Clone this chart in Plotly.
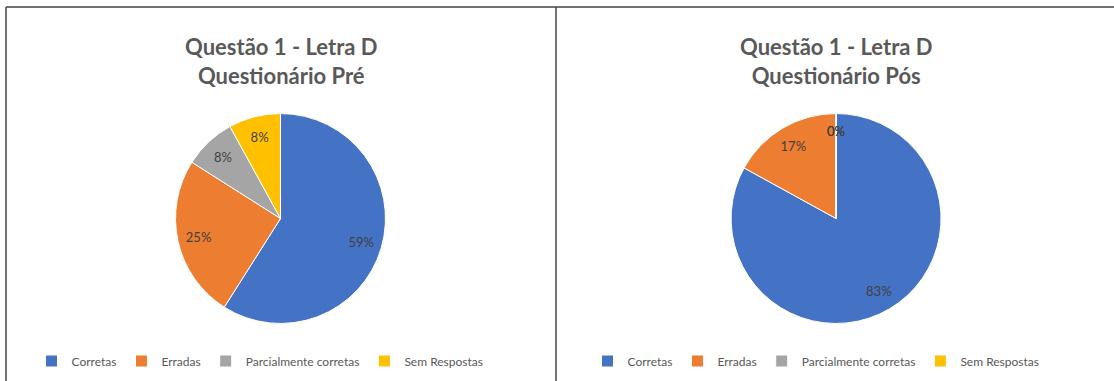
import math
import plotly.graph_objects as go

# Categories and results for question 1 (letter D), before and after
categorias = ["Corretas", "Erradas", "Parcialmente corretas", "Sem Respostas"]
pre_valores = [59, 25, 8, 8]
pos_valores = [83, 17, 0, 0]
cores = ["#4472C4", "#ED7D31", "#A5A5A5", "#FFC000"]

titulo_pre = "Questão 1 - Letra D<br>Questionário Pré"
titulo_pos = "Questão 1 - Letra D<br>Questionário Pós"

W, H = 1114, 381
FONT = "Lato, Carlito, Calibri, sans-serif"
GRAY = "#595959"
LABEL = "#404040"

# pie placement (paper fractions)
DOM_Y = [0.151, 0.702]
DOM_PRE = [0.0518, 0.4518]
DOM_POS = [0.5505, 0.9505]
LABEL_HOLE = 0.6


def px_x(v):
    return v / W


def px_y(v):
    return 1 - v / H


def pie(valores, dom_x, legenda, grupo):
    return go.Pie(
        labels=categorias,
        values=valores,
        sort=False,
        direction="clockwise",
        rotation=0,
        marker=dict(colors=cores, line=dict(color="white", width=1)),
        textinfo="none",
        domain=dict(x=dom_x, y=DOM_Y),
        legend=legenda,
        legendgroup=grupo,
        hoverinfo="label+value",
    )


def rotulos(valores, dom_x):
    # transparent ring carrying the percentage labels further out in each slice
    return go.Pie(
        labels=categorias,
        values=valores,
        sort=False,
        direction="clockwise",
        rotation=0,
        hole=LABEL_HOLE,
        marker=dict(colors=["rgba(0,0,0,0)"] * len(valores), line=dict(width=0)),
        texttemplate="%{value}%",
        textposition="inside",
        insidetextorientation="horizontal",
        textfont=dict(family=FONT, size=13, color=LABEL),
        domain=dict(x=dom_x, y=DOM_Y),
        showlegend=False,
        hoverinfo="skip",
    )


def rotulos_zero(valores, dom_x):
    # zero-valued slices have no area, so their label sits at the slice boundary
    cx = (dom_x[0] + dom_x[1]) / 2 * W
    cy = (1 - (DOM_Y[0] + DOM_Y[1]) / 2) * H
    r = (DOM_Y[1] - DOM_Y[0]) * H / 2 * (1 + LABEL_HOLE) / 2
    total = sum(valores)
    anns = []
    acum = 0
    for v in valores:
        if v == 0:
            ang = 2 * math.pi * acum / total
            anns.append(dict(text=f"{v}%", x=px_x(cx + r * math.sin(ang)),
                             y=px_y(cy - r * math.cos(ang) - 4), xref="paper", yref="paper",
                             showarrow=False, xanchor="center", yanchor="middle",
                             font=dict(family=FONT, size=13, color=LABEL)))
        acum += v
    return anns


fig = go.Figure()
fig.add_trace(pie(pre_valores, DOM_PRE, "legend", "pre"))
fig.add_trace(pie(pos_valores, DOM_POS, "legend2", "pos"))
fig.add_trace(rotulos(pre_valores, DOM_PRE))
fig.add_trace(rotulos(pos_valores, DOM_POS))

leg_common = dict(
    orientation="h",
    yanchor="middle",
    xanchor="center",
    y=px_y(361),
    font=dict(family=FONT, size=12, color=GRAY),
    bgcolor="rgba(0,0,0,0)",
    itemwidth=30,
    traceorder="normal",
)

titulos = [
    dict(text=f"<b>{titulo_pre}</b>", x=px_x(281), y=px_y(61), xref="paper", yref="paper",
         showarrow=False, xanchor="center", yanchor="middle",
         font=dict(family=FONT, size=22, color=GRAY)),
    dict(text=f"<b>{titulo_pos}</b>", x=px_x(836), y=px_y(61), xref="paper", yref="paper",
         showarrow=False, xanchor="center", yanchor="middle",
         font=dict(family=FONT, size=22, color=GRAY)),
]

fig.update_layout(
    width=W,
    height=H,
    margin=dict(l=0, r=0, t=0, b=0),
    paper_bgcolor="white",
    plot_bgcolor="white",
    legend=dict(x=px_x(260), **leg_common),
    legend2=dict(x=px_x(816), **leg_common),
    annotations=titulos + rotulos_zero(pre_valores, DOM_PRE) + rotulos_zero(pos_valores, DOM_POS),
    shapes=[
        dict(type="line", xref="paper", yref="paper", x0=px_x(6), x1=1, y0=px_y(7), y1=px_y(7),
             line=dict(color="#444444", width=1.5)),
        dict(type="line", xref="paper", yref="paper", x0=px_x(6), x1=px_x(6), y0=px_y(7), y1=0,
             line=dict(color="#444444", width=1.5)),
        dict(type="line", xref="paper", yref="paper", x0=px_x(556), x1=px_x(556), y0=px_y(7), y1=0,
             line=dict(color="#444444", width=1.5)),
    ],
)

fig.write_html("out.html")
